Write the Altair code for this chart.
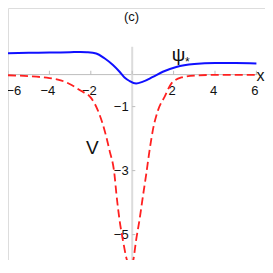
import altair as alt
import pandas as pd

# ---- data ----
psi_x = [-6, -5, -4, -3, -2.5, -2.2, -1.74, -1.34, -0.93, -0.61, -0.37, -0.13,
         0.19, 0.52, 1.0, 1.48, 2.13, 3, 4, 5, 6]
psi_y = [0.67, 0.68, 0.69, 0.70, 0.71, 0.70, 0.66, 0.51, 0.30, 0.09, -0.09, -0.20,
         -0.28, -0.22, -0.07, 0.09, 0.24, 0.33, 0.36, 0.36, 0.35]

v_x = [-6, -5, -4, -3.5, -3, -2.5, -2, -1.67, -1.34, -1.1, -0.86, -0.76, -0.61,
       -0.45, -0.25, -0.08, 0.05, 0.19, 0.35, 0.53, 0.68, 0.84, 1.0, 1.25, 1.57,
       1.89, 2.38, 3.0, 4.0, 6.0]
v_y = [-0.02, -0.05, -0.11, -0.17, -0.30, -0.50, -0.72, -1.10, -1.73, -2.36,
       -3.10, -3.75, -4.55, -5.17, -5.80, -5.97, -5.80, -5.17, -4.55, -3.75,
       -3.10, -2.36, -1.73, -1.11, -0.69, -0.28, -0.09, -0.03, -0.01, -0.01]

x_ticks = [-6, -4, -2, 2, 4, 6]
y_ticks = [-1, -3, -5]

# annotations in regular font
ann_text = ["(c)", "ψ", "*", "x"]
ann_x = [-0.03, 2.24, 2.66, 6.2]
ann_y = [1.80, 0.60, 0.38, -0.05]
ann_size = [13, 19, 12, 16]
# annotation in narrow font
v_text = ["V"]
v_lx = [-1.93]
v_ly = [-2.29]
v_size = [19]

# ---- layout (page is 273 px incl. 8 px margins) ----
W, H = 257, 252
PX_X = 20.7          # pixels per x unit
PX_Y = 32.0          # pixels per y unit
X0, Y0 = 6 * PX_X, 66.6  # plot-area pixel position of the origin
x_dom = [-X0 / PX_X, (W - X0) / PX_X]
y_dom = [-(H - Y0) / PX_Y, Y0 / PX_Y]

NARROW = "Liberation Sans Narrow, Liberation Sans, Arial, sans-serif"
REG = "Liberation Sans, Arial, sans-serif"

xs = alt.Scale(domain=x_dom, nice=False, zero=False)
ys = alt.Scale(domain=y_dom, nice=False, zero=False)

psi_df = pd.DataFrame({"x": psi_x, "y": psi_y})
v_df = pd.DataFrame({"x": v_x, "y": v_y})
ann_df = pd.DataFrame({"t": ann_text, "x": ann_x, "y": ann_y, "s": ann_size})
vlab_df = pd.DataFrame({"t": v_text, "x": v_lx, "y": v_ly, "s": v_size})

xt_df = pd.DataFrame({"x": x_ticks + [0], "y": 0.0, "y2": 0.12})
yt_df = pd.DataFrame({"y": y_ticks, "x": 0.0, "x2": 0.15})

xaxis_df = pd.DataFrame({"x": [x_dom[0]], "x2": [max(x_ticks) + 0.05], "y": [0.0]})
yaxis_df = pd.DataFrame({"y": [0.87], "y2": [y_dom[0]], "x": [0.0]})

base_x = alt.X("x:Q", scale=xs,
               axis=alt.Axis(values=x_ticks, orient="bottom", offset=-(H - Y0),
                             domain=False, ticks=False, grid=False, title=None,
                             labelPadding=10, labelOffset=-2, labelFlush=1,
                             labelFontSize=13, labelFont=NARROW, labelColor="#111"))
base_y = alt.Y("y:Q", scale=ys,
               axis=alt.Axis(values=y_ticks, orient="left", offset=-X0,
                             domain=False, ticks=False, grid=False, title=None,
                             labelPadding=4, labelFontSize=13, labelFont=NARROW,
                             labelColor="#111"))

x_axis_line = alt.Chart(xaxis_df).mark_rule(color="#bdbdbd", strokeWidth=1).encode(
    x=alt.X("x:Q", scale=xs), x2="x2:Q", y=alt.Y("y:Q", scale=ys))
y_axis_line = alt.Chart(yaxis_df).mark_rule(color="#dcdcdc", strokeWidth=2).encode(
    y=alt.Y("y:Q", scale=ys), y2="y2:Q", x=alt.X("x:Q", scale=xs))
x_tick_marks = alt.Chart(xt_df).mark_rule(color="#bdbdbd", strokeWidth=1).encode(
    x=alt.X("x:Q", scale=xs), y=alt.Y("y:Q", scale=ys), y2="y2:Q")
y_tick_marks = alt.Chart(yt_df).mark_rule(color="#bdbdbd", strokeWidth=1).encode(
    y=alt.Y("y:Q", scale=ys), x=alt.X("x:Q", scale=xs), x2="x2:Q")

v_line = alt.Chart(v_df).mark_line(color="#ff2020", strokeWidth=1.8,
                                   strokeDash=[8, 4], interpolate="monotone").encode(
    x=base_x, y=base_y)
psi_line = alt.Chart(psi_df).mark_line(color="#1010ff", strokeWidth=2,
                                       interpolate="monotone").encode(
    x=alt.X("x:Q", scale=xs), y=alt.Y("y:Q", scale=ys))

ann = alt.Chart(ann_df).mark_text(font=REG, color="#111", baseline="middle",
                                  align="center").encode(
    x=alt.X("x:Q", scale=xs), y=alt.Y("y:Q", scale=ys),
    text="t:N", size=alt.Size("s:Q", scale=None, legend=None))
vlab = alt.Chart(vlab_df).mark_text(font=NARROW, color="#111", baseline="middle",
                                    align="center").encode(
    x=alt.X("x:Q", scale=xs), y=alt.Y("y:Q", scale=ys),
    text="t:N", size=alt.Size("s:Q", scale=None, legend=None))

chart = alt.layer(
    x_axis_line, y_axis_line, x_tick_marks, y_tick_marks, v_line, psi_line, ann, vlab
).properties(
    width=W, height=H, padding=0, autosize=alt.AutoSizeParams(type="none")
).configure_view(stroke=None).configure(background="white")

chart.save("out.html", embed_options={"renderer": "svg", "actions": False})
